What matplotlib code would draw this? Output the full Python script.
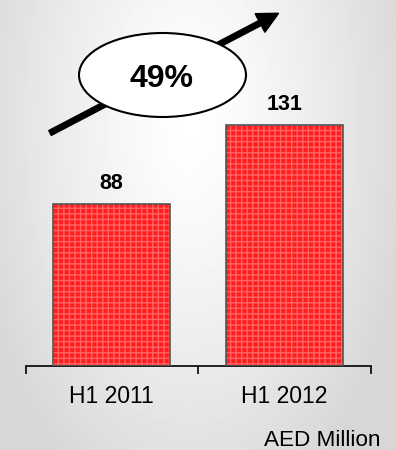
import numpy as np
import matplotlib.pyplot as plt
from matplotlib.patches import Ellipse, FancyArrow

plt.rcParams['font.family'] = ['Liberation Sans', 'DejaVu Sans']

periods = ['H1 2011', 'H1 2012']
revenue = [88, 131]
growth_label = '49%'
unit_label = 'AED Million'

fig = plt.figure(figsize=(3.96, 4.5), dpi=100)

# soft grey background, lighter towards the upper middle
bg = fig.add_axes([0, 0, 1, 1])
yy, xx = np.mgrid[0:450, 0:396]
d = np.sqrt(((xx - 190) / 230.0) ** 2 + ((yy - 120) / 420.0) ** 2)
shade = 1.0 - 0.16 * np.clip(d, 0, 1) ** 1.3
bg.imshow(shade, cmap='gray', vmin=0, vmax=1, extent=[0, 396, 450, 0], aspect='auto')
bg.set_xlim(0, 396)
bg.set_ylim(450, 0)
bg.axis('off')

ax = fig.add_axes([26 / 396, 1 - 366 / 450, 345 / 396, 366 / 450])
ax.patch.set_alpha(0)
x = np.arange(len(periods))
# red fill with a lighter grid texture, then a dark outline on top
ax.bar(x, revenue, width=0.676, color='#ff1e1e', edgecolor='#ff6464',
       hatch='+++', linewidth=0, zorder=2)
ax.bar(x, revenue, width=0.676, fill=False, edgecolor='#555555',
       linewidth=1.2, zorder=3)
for xi, v in zip(x, revenue):
    ax.annotate(str(v), (xi, v), xytext=(0, 7), textcoords='offset points',
                ha='center', va='bottom', fontsize=15.5, fontweight='bold')

ax.set_xlim(-0.494, 1.5)
ax.set_ylim(0, 199)
ax.set_yticks([])
ax.set_xticks([-0.494, 0.5, 1.5])
ax.set_xticklabels([])
ax.tick_params(axis='x', direction='out', length=6, width=1.2, color='black')
ax.set_xticks(x, minor=True)
ax.set_xticklabels(periods, minor=True, fontsize=16.5)
ax.tick_params(axis='x', which='minor', length=0, pad=14)
for s in ['top', 'left', 'right']:
    ax.spines[s].set_visible(False)
ax.spines['bottom'].set_linewidth(1.2)

# growth arrow with the percentage bubble over it
ov = fig.add_axes([0, 0, 1, 1])
ov.set_xlim(0, 396)
ov.set_ylim(450, 0)
ov.axis('off')
ov.add_patch(FancyArrow(50, 133, 210, -110, width=5.5, head_width=21,
                        head_length=21, length_includes_head=False,
                        color='black'))
ov.add_patch(Ellipse((162.5, 75), 167, 84, facecolor='white',
                     edgecolor='black', linewidth=1.5))
ov.text(161, 79, growth_label, ha='center', va='center', fontsize=23,
        fontweight='bold')
ov.text(381, 440, unit_label, ha='right', va='center', fontsize=16.2)

fig.savefig('out.png', dpi=100)
